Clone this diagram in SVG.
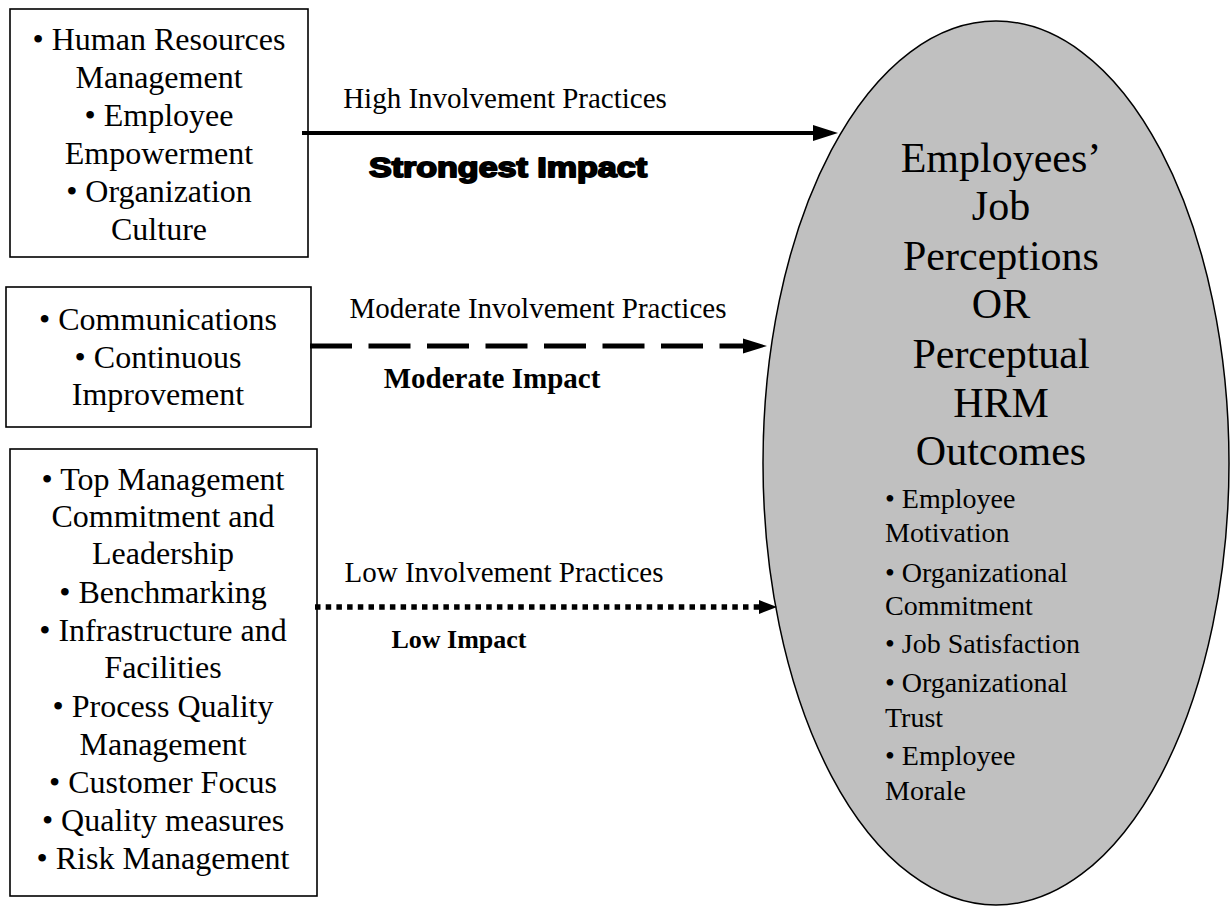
<svg xmlns="http://www.w3.org/2000/svg" width="1230" height="907" viewBox="0 0 1230 907">
  <style>
    .box { fill: #ffffff; stroke: #000000; stroke-width: 1.6; }
    .item { font-family: "Liberation Serif", "Times New Roman", serif; font-size: 32px; fill: #000; text-anchor: middle; }
    .label { font-family: "Liberation Serif", "Times New Roman", serif; font-size: 29px; fill: #000; text-anchor: middle; }
    .impact { font-family: "Liberation Serif", "Times New Roman", serif; font-weight: bold; fill: #000; text-anchor: middle; }
    .heavy { font-family: "Liberation Sans", Arial, sans-serif; font-weight: bold; font-size: 27px; fill: #000; stroke: #000; stroke-width: 1.8; stroke-linejoin: round; text-anchor: middle; }
    .title { font-family: "Liberation Serif", "Times New Roman", serif; font-size: 42px; fill: #000; text-anchor: middle; }
    .outcome { font-family: "Liberation Serif", "Times New Roman", serif; font-size: 28px; fill: #000; }
    .link { fill: none; stroke: #000; }
  </style>

  <rect width="1230" height="907" fill="#ffffff"/>

  <!-- outcome ellipse -->
  <g id="outcomes">
    <ellipse cx="996" cy="463" rx="233" ry="442" fill="#c0c0c0" stroke="#000" stroke-width="1.5"/>
    <text class="title" x="1001" y="172">Employees’</text>
    <text class="title" x="1001" y="220">Job</text>
    <text class="title" x="1001" y="270">Perceptions</text>
    <text class="title" x="1001" y="318">OR</text>
    <text class="title" x="1001" y="368">Perceptual</text>
    <text class="title" x="1001" y="417">HRM</text>
    <text class="title" x="1001" y="465">Outcomes</text>
    <text class="outcome" x="885" y="508">• Employee</text>
    <text class="outcome" x="885" y="542">Motivation</text>
    <text class="outcome" x="885" y="582">• Organizational</text>
    <text class="outcome" x="885" y="615">Commitment</text>
    <text class="outcome" x="885" y="653">• Job Satisfaction</text>
    <text class="outcome" x="885" y="692">• Organizational</text>
    <text class="outcome" x="885" y="727">Trust</text>
    <text class="outcome" x="885" y="765">• Employee</text>
    <text class="outcome" x="885" y="800">Morale</text>
  </g>

  <!-- high involvement practices -->
  <g id="high-practices">
    <rect class="box" x="10" y="9" width="298" height="248"/>
    <text class="item" x="159" y="50">• Human Resources</text>
    <text class="item" x="159" y="88">Management</text>
    <text class="item" x="159" y="126">• Employee</text>
    <text class="item" x="159" y="164">Empowerment</text>
    <text class="item" x="159" y="202">• Organization</text>
    <text class="item" x="159" y="240">Culture</text>
  </g>

  <!-- moderate involvement practices -->
  <g id="moderate-practices">
    <rect class="box" x="6" y="287" width="305" height="140"/>
    <text class="item" x="158" y="330">• Communications</text>
    <text class="item" x="158" y="368">• Continuous</text>
    <text class="item" x="158" y="405">Improvement</text>
  </g>

  <!-- low involvement practices -->
  <g id="low-practices">
    <rect class="box" x="10" y="449" width="307" height="447"/>
    <text class="item" x="163" y="490">• Top Management</text>
    <text class="item" x="163" y="527">Commitment and</text>
    <text class="item" x="163" y="564">Leadership</text>
    <text class="item" x="163" y="603">• Benchmarking</text>
    <text class="item" x="163" y="641">• Infrastructure and</text>
    <text class="item" x="163" y="678">Facilities</text>
    <text class="item" x="163" y="717">• Process Quality</text>
    <text class="item" x="163" y="755">Management</text>
    <text class="item" x="163" y="793">• Customer Focus</text>
    <text class="item" x="163" y="831">• Quality measures</text>
    <text class="item" x="163" y="869">• Risk Management</text>
  </g>

  <!-- connectors -->
  <g id="connectors">
    <line class="link" x1="302" y1="133" x2="816" y2="133" stroke-width="4"/>
    <polygon points="813,125 838,133 813,141" fill="#000"/>
    <text class="label" x="505" y="108">High Involvement Practices</text>
    <text class="heavy" x="508" y="177" textLength="278" lengthAdjust="spacingAndGlyphs">Strongest Impact</text>

    <line class="link" x1="310" y1="346" x2="745" y2="346" stroke-width="5" stroke-dasharray="42 16.5"/>
    <polygon points="743,338.5 767,346 743,353.5" fill="#000"/>
    <text class="label" x="538" y="318">Moderate Involvement Practices</text>
    <text class="impact" x="492" y="388" font-size="29">Moderate Impact</text>

    <line class="link" x1="315" y1="607" x2="760" y2="607" stroke-width="5.5" stroke-dasharray="5.5 5.2"/>
    <polygon points="759,600 777,607 759,614" fill="#000"/>
    <text class="label" x="504" y="582">Low Involvement Practices</text>
    <text class="impact" x="459" y="648" font-size="26">Low Impact</text>
  </g>
</svg>
